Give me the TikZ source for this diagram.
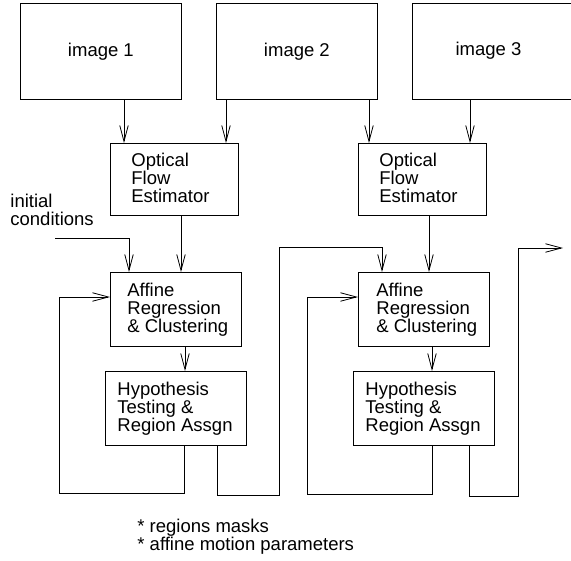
\documentclass[tikz,border=0pt]{standalone}
\usepackage{fontspec}
\setmainfont{Liberation Sans}
\usetikzlibrary{arrows.meta}
\tikzset{
  every node/.style={font=\fontsize{18.5}{18}\selectfont},
  box/.style={draw, rectangle, anchor=north west, inner sep=0pt},
  txt/.style={inner sep=0pt, align=left},
  wire/.style={draw, line width=0.8pt, line join=miter},
  arr/.style={wire, -{Straight Barb[length=16pt,width=8.5pt,line width=0.8pt]}},
}
\begin{document}
\begin{tikzpicture}[x=1pt,y=-1pt, line width=0.8pt]
\useasboundingbox (0,0) rectangle (571,561);
\clip (0,0) rectangle (571,561);

% input frames
\node[box, minimum width=161pt, minimum height=96pt] (img1) at (20,3) {image 1};
\node[box, minimum width=161pt, minimum height=96pt] (img2) at (216,3) {image 2};
\node[box, minimum width=170pt, minimum height=96pt] (img3) at (412,3) {};
\node[txt] (img3t) at (488.5,51) {image 3};

% first processing column
\node[box, minimum width=128pt, minimum height=72pt] (of1) at (110,143) {};
\node[txt, anchor=west] (of1t) at ([xshift=21pt,yshift=2pt]of1.west) {Optical\\Flow\\Estimator};
\node[box, minimum width=131pt, minimum height=74pt] (aff1) at (110,272) {};
\node[txt, anchor=west] (aff1t) at ([xshift=17pt]aff1.west) {Affine\\Regression\\\& Clustering};
\node[box, minimum width=141pt, minimum height=74pt] (hyp1) at (105,371) {};
\node[txt, anchor=west] (hyp1t) at ([xshift=12pt]hyp1.west) {Hypothesis\\Testing \&\\Region Assgn};

% second processing column
\node[box, minimum width=128pt, minimum height=72pt] (of2) at (358,143) {};
\node[txt, anchor=west] (of2t) at ([xshift=21pt,yshift=2pt]of2.west) {Optical\\Flow\\Estimator};
\node[box, minimum width=131pt, minimum height=74pt] (aff2) at (358,272) {};
\node[txt, anchor=west] (aff2t) at ([xshift=18pt]aff2.west) {Affine\\Regression\\\& Clustering};
\node[box, minimum width=141pt, minimum height=74pt] (hyp2) at (353,371) {};
\node[txt, anchor=west] (hyp2t) at ([xshift=12pt]hyp2.west) {Hypothesis\\Testing \&\\Region Assgn};

% labels
\node[txt, anchor=north west] (init) at (10,194) {initial\\conditions};
\node[txt, anchor=north west] (outs) at (137,519) {* regions masks\\* affine motion parameters};

% routing points
\coordinate (ic) at (55,238);
\coordinate (l1) at (59,493);
\coordinate (o1a) at (279,495);
\coordinate (o1b) at (279,247);
\coordinate (l2) at (307,494);
\coordinate (o2a) at (518,496);
\coordinate (o2b) at (518,248);
\coordinate (o2c) at (563,248);

% frames into flow estimators
\draw[arr] ([xshift=14pt]of1.north west |- img1.south) -- ([xshift=14pt]of1.north west);
\draw[arr] ([xshift=116pt]of1.north west |- img2.south) -- ([xshift=116pt]of1.north west);
\draw[arr] ([xshift=11pt]of2.north west |- img2.south) -- ([xshift=11pt]of2.north west);
\draw[arr] ([xshift=112pt]of2.north west |- img3.south) -- ([xshift=112pt]of2.north west);

% first column flow
\draw[arr] ([xshift=71pt]of1.south west) -- ([xshift=71pt]aff1.north west);
\draw[arr] (ic) -| ([xshift=19pt]aff1.north west);
\draw[arr] ([xshift=75pt]aff1.south west) -- ([xshift=80pt]hyp1.north west);
\draw[arr] ([xshift=79pt]hyp1.south west) |- (l1) |- ([yshift=-25pt]aff1.north west);
\draw[arr] ([xshift=112pt]hyp1.south west) |- (o1a) -- (o1b) -| ([xshift=24pt]aff2.north west);

% second column flow
\draw[arr] ([xshift=71pt]of2.south west) -- ([xshift=71pt]aff2.north west);
\draw[arr] ([xshift=74pt]aff2.south west) -- ([xshift=79pt]hyp2.north west);
\draw[arr] ([xshift=79pt]hyp2.south west) |- (l2) |- ([yshift=-25pt]aff2.north west);
\draw[arr] ([xshift=116pt]hyp2.south west) |- (o2a) -- (o2b) -- (o2c);
\end{tikzpicture}
\end{document}
